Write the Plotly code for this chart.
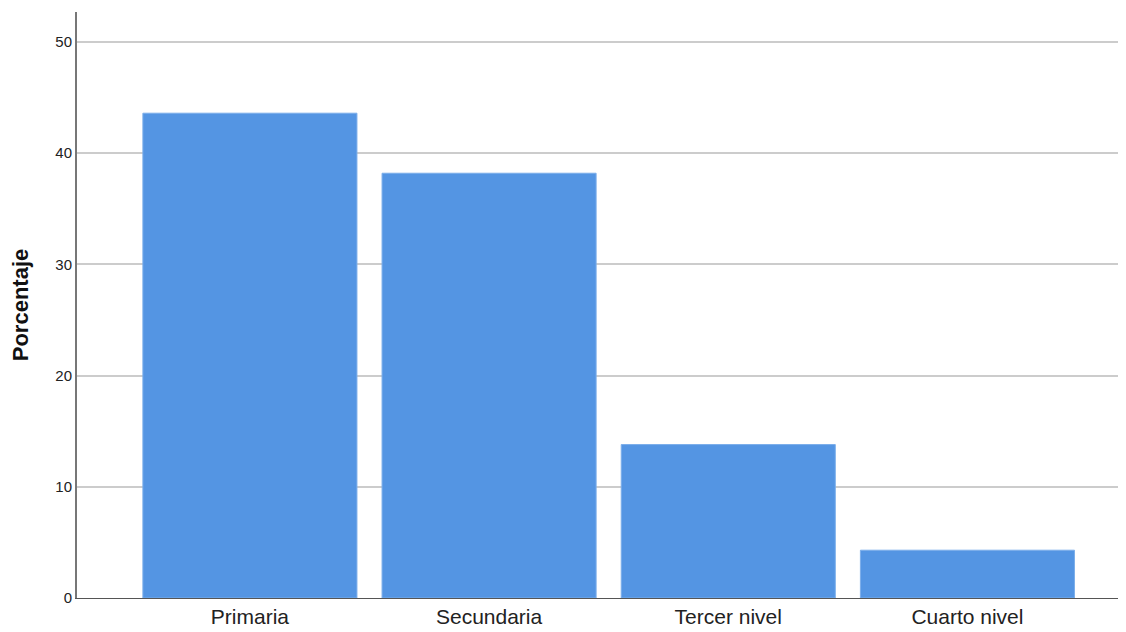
import plotly.graph_objects as go

categories = ["Primaria", "Secundaria", "Tercer nivel", "Cuarto nivel"]
values = [43.6, 38.2, 13.8, 4.3]
y_ticks = [0, 10, 20, 30, 40, 50]

fig = go.Figure(go.Bar(
    x=list(range(len(categories))),
    y=values,
    width=0.895,
    marker=dict(color="#5495E3", line=dict(color="#7BAEEA", width=1)),
))

fig.update_layout(
    width=1118, height=624,
    margin=dict(l=69, r=0, t=4, b=34),
    paper_bgcolor="white", plot_bgcolor="white",
    showlegend=False,
    font=dict(family="Liberation Sans, Arial, sans-serif", color="#222"),
    xaxis=dict(
        range=[-0.723, 3.663],
        tickmode="array", tickvals=list(range(len(categories))), ticktext=categories,
        tickfont=dict(size=21, color="#222"),
        showgrid=False, zeroline=False,
        showline=True, linecolor="#555", linewidth=1,
        ticks="", ticklen=0,
    ),
    yaxis=dict(
        range=[0, 52.7],
        tickmode="array", tickvals=y_ticks,
        tickfont=dict(size=15, color="#222"),
        showgrid=True, gridcolor="#CCCCCC", gridwidth=2,
        zeroline=False,
        showline=True, linecolor="#777", linewidth=2,
        ticks="", ticklen=0,
        title=dict(text="<b>Porcentaje</b>", font=dict(size=22, color="#111"), standoff=24),
    ),
    bargap=0.1,
)

fig.write_html("out.html")
